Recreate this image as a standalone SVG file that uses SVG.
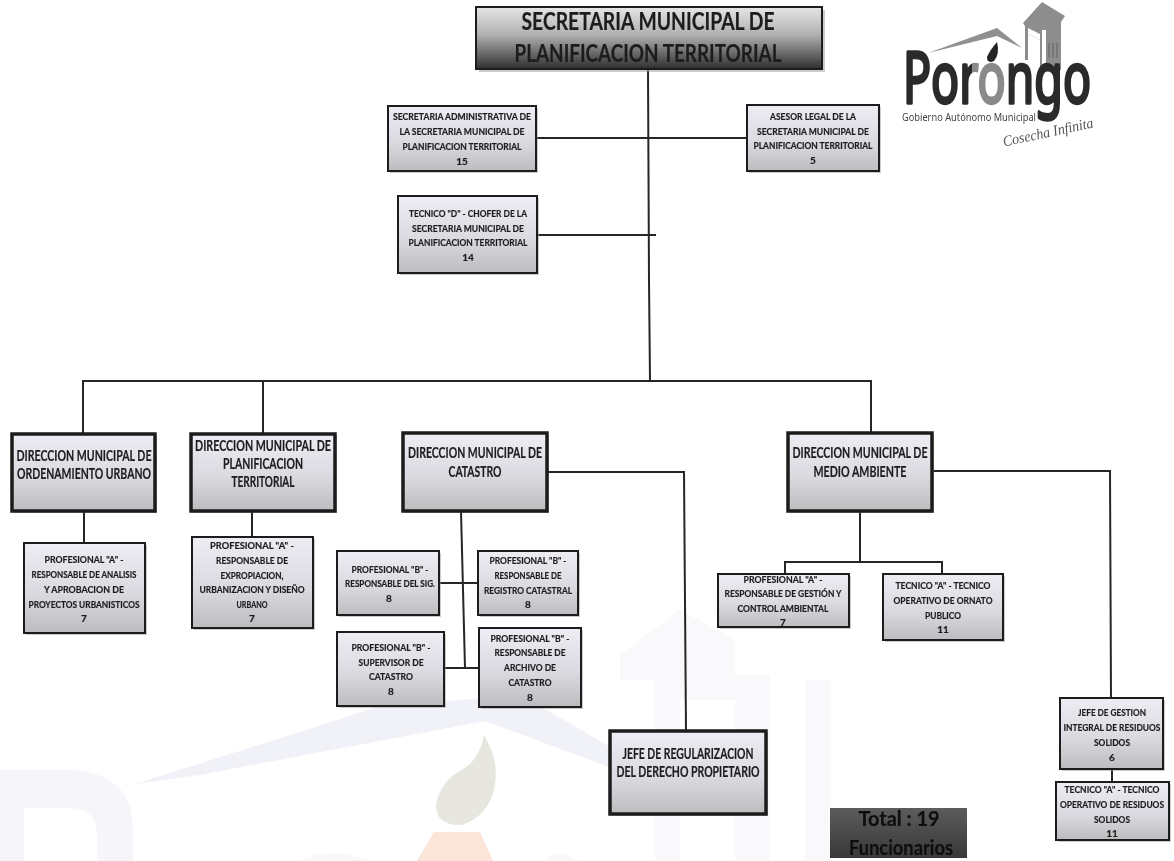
<svg xmlns="http://www.w3.org/2000/svg" width="1174" height="861" viewBox="0 0 1174 861">
<style>
text{font-family:"Lato","Open Sans","Liberation Sans",sans-serif;font-weight:700;text-anchor:middle;fill:#1e1e1e;stroke:#1e1e1e;stroke-width:.2}
.s text{font-size:10px}
.d text{font-size:14.5px}
.box{fill:url(#g);stroke:#1c1c1c;stroke-width:2}
.dir{fill:url(#g);stroke:#1c1c1c;stroke-width:3.5}
.sh{fill:#999;opacity:.5}
.c{fill:none;stroke:#262626;stroke-width:2}
.wm{fill:#f9f9fc}
.logo-t{font-family:"Noto Sans","Lato",sans-serif;font-weight:400;fill:url(#lg);stroke:url(#lg);stroke-width:3.4;stroke-linejoin:round}
</style>
<defs>
<linearGradient id="g" x1="0" y1="0" x2="0" y2="1"><stop offset="0" stop-color="#eeedf4"/><stop offset=".55" stop-color="#dadae0"/><stop offset="1" stop-color="#bdbdc0"/></linearGradient>
<linearGradient id="m" x1="0" y1="0" x2="0" y2="1"><stop offset="0" stop-color="#e6e6e6"/><stop offset=".45" stop-color="#b0b0b0"/><stop offset="1" stop-color="#2e2e2e"/></linearGradient>
<linearGradient id="t" x1="0" y1="0" x2="0" y2="1"><stop offset="0" stop-color="#5c5c5c"/><stop offset="1" stop-color="#383838"/></linearGradient>
<linearGradient id="lg" gradientUnits="userSpaceOnUse" x1="900" y1="0" x2="1100" y2="0"><stop offset=".36" stop-color="#2c2c2c"/><stop offset=".36" stop-color="#8a8a8a"/><stop offset=".545" stop-color="#8a8a8a"/><stop offset=".545" stop-color="#2c2c2c"/></linearGradient>
<filter id="soft" filterUnits="userSpaceOnUse" x="0" y="0" width="1174" height="861"><feGaussianBlur stdDeviation="0.35"/></filter>
</defs>
<rect width="1174" height="861" fill="#fff"/>
<g id="watermark">
<path fill="#f6f6fa" fill-rule="evenodd" d="M0 770H75Q133 775 133 830V861H97V835Q97 808 70 808H24V861H0Z"/>
<path fill="#f1f1f8" d="M135 784L300 732L380 706L485 698L540 706L612 748V768L485 721L300 756L200 775Z"/>
<path fill="#e7e7df" d="M484 735Q499 760 495 785Q490 815 462 825Q436 826 436 805Q440 780 465 768Q480 758 484 735Z"/>
<path fill="#fbe4d8" d="M417 861L434 832H480L493 861Z"/>
<path class="wm" d="M300 861Q330 845 370 861ZM545 861Q560 845 578 861Z"/>
<path class="wm" d="M620 680V655L680 610L735 640V700H680V861H655V680H620Z"/>
<path class="wm" d="M735 675H770V861H735ZM805 680H830V861H805Z"/>
</g>
<g id="diagram" filter="url(#soft)">
<g id="connectors">
<path class="c" d="M648 69L649 280L650 381"/>
<path class="c" d="M536 138H747"/>
<path class="c" d="M537 235H656"/>
<path class="c" d="M83 433V381H871V432"/>
<path class="c" d="M263 433V381"/>
<path class="c" d="M84 511V543"/>
<path class="c" d="M252 511V537"/>
<path class="c" d="M461 511L465 668"/>
<path class="c" d="M439 583H478"/>
<path class="c" d="M444 668H479"/>
<path class="c" d="M547 472H684L686 731"/>
<path class="c" d="M860 511V562"/>
<path class="c" d="M785 574V562H942V574"/>
<path class="c" d="M932 471H1110L1111 698"/>
<path class="c" d="M1112 769V782"/>
</g>
<g id="n-main">
<rect class="sh" x="479" y="10" width="346" height="62"/>
<rect x="476" y="7" width="346" height="62" fill="url(#m)" stroke="#1c1c1c" stroke-width="2"/>
<text x="648" y="30" font-size="24" textLength="253" lengthAdjust="spacingAndGlyphs">SECRETARIA MUNICIPAL DE</text>
<text x="648" y="62" font-size="24" textLength="267" lengthAdjust="spacingAndGlyphs">PLANIFICACION TERRITORIAL</text>
</g>
<g id="n-secretaria" class="s">
<rect class="sh" x="390" y="108" width="148" height="65"/><rect class="box" x="388" y="106" width="148" height="65"/>
<text x="462" y="120" textLength="138" lengthAdjust="spacingAndGlyphs">SECRETARIA ADMINISTRATIVA DE</text>
<text x="462" y="135" textLength="125" lengthAdjust="spacingAndGlyphs">LA SECRETARIA MUNICIPAL DE</text>
<text x="462" y="150" textLength="119" lengthAdjust="spacingAndGlyphs">PLANIFICACION TERRITORIAL</text>
<text x="462" y="165">15</text>
</g>
<g id="n-asesor" class="s">
<rect class="sh" x="749" y="107" width="132" height="66"/><rect class="box" x="747" y="105" width="132" height="66"/>
<text x="813" y="120" textLength="86" lengthAdjust="spacingAndGlyphs">ASESOR LEGAL DE LA</text>
<text x="813" y="135" textLength="112" lengthAdjust="spacingAndGlyphs">SECRETARIA MUNICIPAL DE</text>
<text x="813" y="149" textLength="119" lengthAdjust="spacingAndGlyphs">PLANIFICACION TERRITORIAL</text>
<text x="813" y="164">5</text>
</g>
<g id="n-tecnico-d" class="s">
<rect class="sh" x="400" y="198" width="139" height="77"/><rect class="box" x="398" y="196" width="139" height="77"/>
<text x="468" y="217" textLength="118" lengthAdjust="spacingAndGlyphs">TECNICO "D" - CHOFER DE LA</text>
<text x="468" y="232" textLength="112" lengthAdjust="spacingAndGlyphs">SECRETARIA MUNICIPAL DE</text>
<text x="468" y="246" textLength="119" lengthAdjust="spacingAndGlyphs">PLANIFICACION TERRITORIAL</text>
<text x="468" y="261">14</text>
</g>
<g id="n-dir-ordenamiento" class="d">
<rect class="sh" x="14" y="436" width="143" height="77"/><rect class="dir" x="12" y="434" width="143" height="77"/>
<text x="84" y="461" textLength="135" lengthAdjust="spacingAndGlyphs">DIRECCION MUNICIPAL DE</text>
<text x="84" y="479" textLength="134" lengthAdjust="spacingAndGlyphs">ORDENAMIENTO URBANO</text>
</g>
<g id="n-dir-planificacion" class="d">
<rect class="sh" x="193" y="436" width="144" height="77"/><rect class="dir" x="191" y="434" width="144" height="77"/>
<text x="263" y="451" textLength="136" lengthAdjust="spacingAndGlyphs">DIRECCION MUNICIPAL DE</text>
<text x="263" y="469" textLength="80" lengthAdjust="spacingAndGlyphs">PLANIFICACION</text>
<text x="263" y="487" textLength="63" lengthAdjust="spacingAndGlyphs">TERRITORIAL</text>
</g>
<g id="n-dir-catastro" class="d">
<rect class="sh" x="405" y="435" width="144" height="78"/><rect class="dir" x="403" y="433" width="144" height="78"/>
<text x="475" y="458" textLength="134" lengthAdjust="spacingAndGlyphs">DIRECCION MUNICIPAL DE</text>
<text x="475" y="477" textLength="53" lengthAdjust="spacingAndGlyphs">CATASTRO</text>
</g>
<g id="n-dir-medio" class="d">
<rect class="sh" x="790" y="435" width="144" height="78"/><rect class="dir" x="788" y="433" width="144" height="78"/>
<text x="860" y="458" textLength="135" lengthAdjust="spacingAndGlyphs">DIRECCION MUNICIPAL DE</text>
<text x="860" y="477" textLength="93" lengthAdjust="spacingAndGlyphs">MEDIO AMBIENTE</text>
</g>
<g id="n-prof-analisis" class="s">
<rect class="sh" x="26" y="545" width="121" height="90"/><rect class="box" x="24" y="543" width="121" height="90"/>
<text x="84" y="563" textLength="79" lengthAdjust="spacingAndGlyphs">PROFESIONAL "A" -</text>
<text x="84" y="578" textLength="105" lengthAdjust="spacingAndGlyphs">RESPONSABLE DE ANALISIS</text>
<text x="84" y="593" textLength="80" lengthAdjust="spacingAndGlyphs">Y APROBACION DE</text>
<text x="84" y="608" textLength="111" lengthAdjust="spacingAndGlyphs">PROYECTOS URBANISTICOS</text>
<text x="84" y="622">7</text>
</g>
<g id="n-prof-expropiacion" class="s">
<rect class="sh" x="194" y="539" width="121" height="91"/><rect class="box" x="192" y="537" width="121" height="91"/>
<text x="252" y="549" textLength="84" lengthAdjust="spacingAndGlyphs">PROFESIONAL "A" -</text>
<text x="252" y="564" textLength="72" lengthAdjust="spacingAndGlyphs">RESPONSABLE DE</text>
<text x="252" y="579" textLength="63" lengthAdjust="spacingAndGlyphs">EXPROPIACION,</text>
<text x="252" y="593" textLength="105" lengthAdjust="spacingAndGlyphs">URBANIZACION Y DISEÑO</text>
<text x="252" y="608" textLength="31" lengthAdjust="spacingAndGlyphs">URBANO</text>
<text x="252" y="622">7</text>
</g>
<g id="n-prof-sig" class="s">
<rect class="sh" x="339" y="553" width="102" height="64"/><rect class="box" x="337" y="551" width="102" height="64"/>
<text x="390" y="573" textLength="77" lengthAdjust="spacingAndGlyphs">PROFESIONAL "B" -</text>
<text x="390" y="587" textLength="90" lengthAdjust="spacingAndGlyphs">RESPONSABLE DEL SIG.</text>
<text x="389" y="602">8</text>
</g>
<g id="n-prof-registro" class="s">
<rect class="sh" x="480" y="553" width="100" height="64"/><rect class="box" x="478" y="551" width="100" height="64"/>
<text x="528" y="564" textLength="77" lengthAdjust="spacingAndGlyphs">PROFESIONAL "B" -</text>
<text x="528" y="579" textLength="67" lengthAdjust="spacingAndGlyphs">RESPONSABLE DE</text>
<text x="528" y="594" textLength="88" lengthAdjust="spacingAndGlyphs">REGISTRO CATASTRAL</text>
<text x="528" y="608">8</text>
</g>
<g id="n-prof-supervisor" class="s">
<rect class="sh" x="339" y="634" width="107" height="74"/><rect class="box" x="337" y="632" width="107" height="74"/>
<text x="391" y="651" textLength="79" lengthAdjust="spacingAndGlyphs">PROFESIONAL "B" -</text>
<text x="391" y="666" textLength="65" lengthAdjust="spacingAndGlyphs">SUPERVISOR DE</text>
<text x="391" y="680" textLength="44" lengthAdjust="spacingAndGlyphs">CATASTRO</text>
<text x="391" y="695">8</text>
</g>
<g id="n-prof-archivo" class="s">
<rect class="sh" x="481" y="630" width="102" height="79"/><rect class="box" x="479" y="628" width="102" height="79"/>
<text x="530" y="642" textLength="79" lengthAdjust="spacingAndGlyphs">PROFESIONAL "B" -</text>
<text x="530" y="656" textLength="71" lengthAdjust="spacingAndGlyphs">RESPONSABLE DE</text>
<text x="530" y="671" textLength="52" lengthAdjust="spacingAndGlyphs">ARCHIVO DE</text>
<text x="530" y="686" textLength="43" lengthAdjust="spacingAndGlyphs">CATASTRO</text>
<text x="530" y="701">8</text>
</g>
<g id="n-jefe-regularizacion" class="d">
<rect class="sh" x="612" y="733" width="156" height="83"/><rect class="dir" x="610" y="731" width="156" height="83"/>
<text x="688" y="759" textLength="131" lengthAdjust="spacingAndGlyphs">JEFE DE REGULARIZACION</text>
<text x="688" y="777" textLength="143" lengthAdjust="spacingAndGlyphs">DEL DERECHO PROPIETARIO</text>
</g>
<g id="n-prof-gestion" class="s">
<rect class="sh" x="720" y="576" width="131" height="53"/><rect class="box" x="718" y="574" width="131" height="53"/>
<text x="783" y="583" textLength="79" lengthAdjust="spacingAndGlyphs">PROFESIONAL "A" -</text>
<text x="783" y="597" textLength="117" lengthAdjust="spacingAndGlyphs">RESPONSABLE DE GESTIÓN Y</text>
<text x="783" y="612" textLength="91" lengthAdjust="spacingAndGlyphs">CONTROL AMBIENTAL</text>
<text x="783" y="626">7</text>
</g>
<g id="n-tecnico-ornato" class="s">
<rect class="sh" x="885" y="576" width="120" height="66"/><rect class="box" x="883" y="574" width="120" height="66"/>
<text x="943" y="589" textLength="95" lengthAdjust="spacingAndGlyphs">TECNICO "A" - TECNICO</text>
<text x="943" y="604" textLength="99" lengthAdjust="spacingAndGlyphs">OPERATIVO DE ORNATO</text>
<text x="943" y="619" textLength="36" lengthAdjust="spacingAndGlyphs">PUBLICO</text>
<text x="943" y="633">11</text>
</g>
<g id="n-jefe-gestion" class="s">
<rect class="sh" x="1062" y="700" width="103" height="71"/><rect class="box" x="1060" y="698" width="103" height="71"/>
<text x="1112" y="716" textLength="68" lengthAdjust="spacingAndGlyphs">JEFE DE GESTION</text>
<text x="1112" y="731" textLength="97" lengthAdjust="spacingAndGlyphs">INTEGRAL DE RESIDUOS</text>
<text x="1112" y="746" textLength="36" lengthAdjust="spacingAndGlyphs">SOLIDOS</text>
<text x="1112" y="761">6</text>
</g>
<g id="n-tecnico-residuos" class="s">
<rect class="sh" x="1058" y="784" width="113" height="58"/><rect class="box" x="1056" y="782" width="113" height="58"/>
<text x="1112" y="793" textLength="95" lengthAdjust="spacingAndGlyphs">TECNICO "A" - TECNICO</text>
<text x="1112" y="808" textLength="104" lengthAdjust="spacingAndGlyphs">OPERATIVO DE RESIDUOS</text>
<text x="1112" y="823" textLength="36" lengthAdjust="spacingAndGlyphs">SOLIDOS</text>
<text x="1112" y="837">11</text>
</g>
<g id="n-total">
<rect x="830" y="808" width="137" height="50" fill="url(#t)"/>
<text x="899" y="826" font-size="21" textLength="81" lengthAdjust="spacingAndGlyphs" style="fill:#111;stroke:#111">Total : 19</text>
<text x="901" y="855" font-size="21" textLength="104" lengthAdjust="spacingAndGlyphs" style="fill:#111;stroke:#111">Funcionarios</text>
</g>
<g id="logo">
<path fill="#909090" d="M928 53L997 28L1022 48L997 36Z"/>
<path fill="#8d8d8d" d="M1023 23L1042 2L1065 16L1061 22V70H1040V40L1028 34V60H1025V26Z"/>
<path fill="#fff" d="M1042 30H1046V70H1042ZM1028 28L1040 34V40L1028 34Z"/>
<path fill="#777" d="M1048 43h2v15h-2zM1052 43h2v15h-2zM1056 43h2v15h-2z"/>
<path fill="#222" d="M997 42Q1000 54 994 61Q987 64 987 57Q990 50 997 42Z"/>
<text class="logo-t" x="997" y="103" font-size="72" textLength="188" lengthAdjust="spacingAndGlyphs">Porongo</text>
<text x="969" y="121" font-size="10.5" textLength="134" lengthAdjust="spacingAndGlyphs" style="font-weight:400;fill:#444;stroke:none;font-family:'Noto Sans',sans-serif">Gobierno Autónomo Municipal</text>
<text x="1048" y="137" font-size="15" textLength="92" lengthAdjust="spacingAndGlyphs" transform="rotate(-12 1048 132)" style="font-family:'Liberation Serif',serif;font-style:italic;font-weight:400;fill:#555;stroke:none">Cosecha Infinita</text>
</g>
</g>
</svg>
